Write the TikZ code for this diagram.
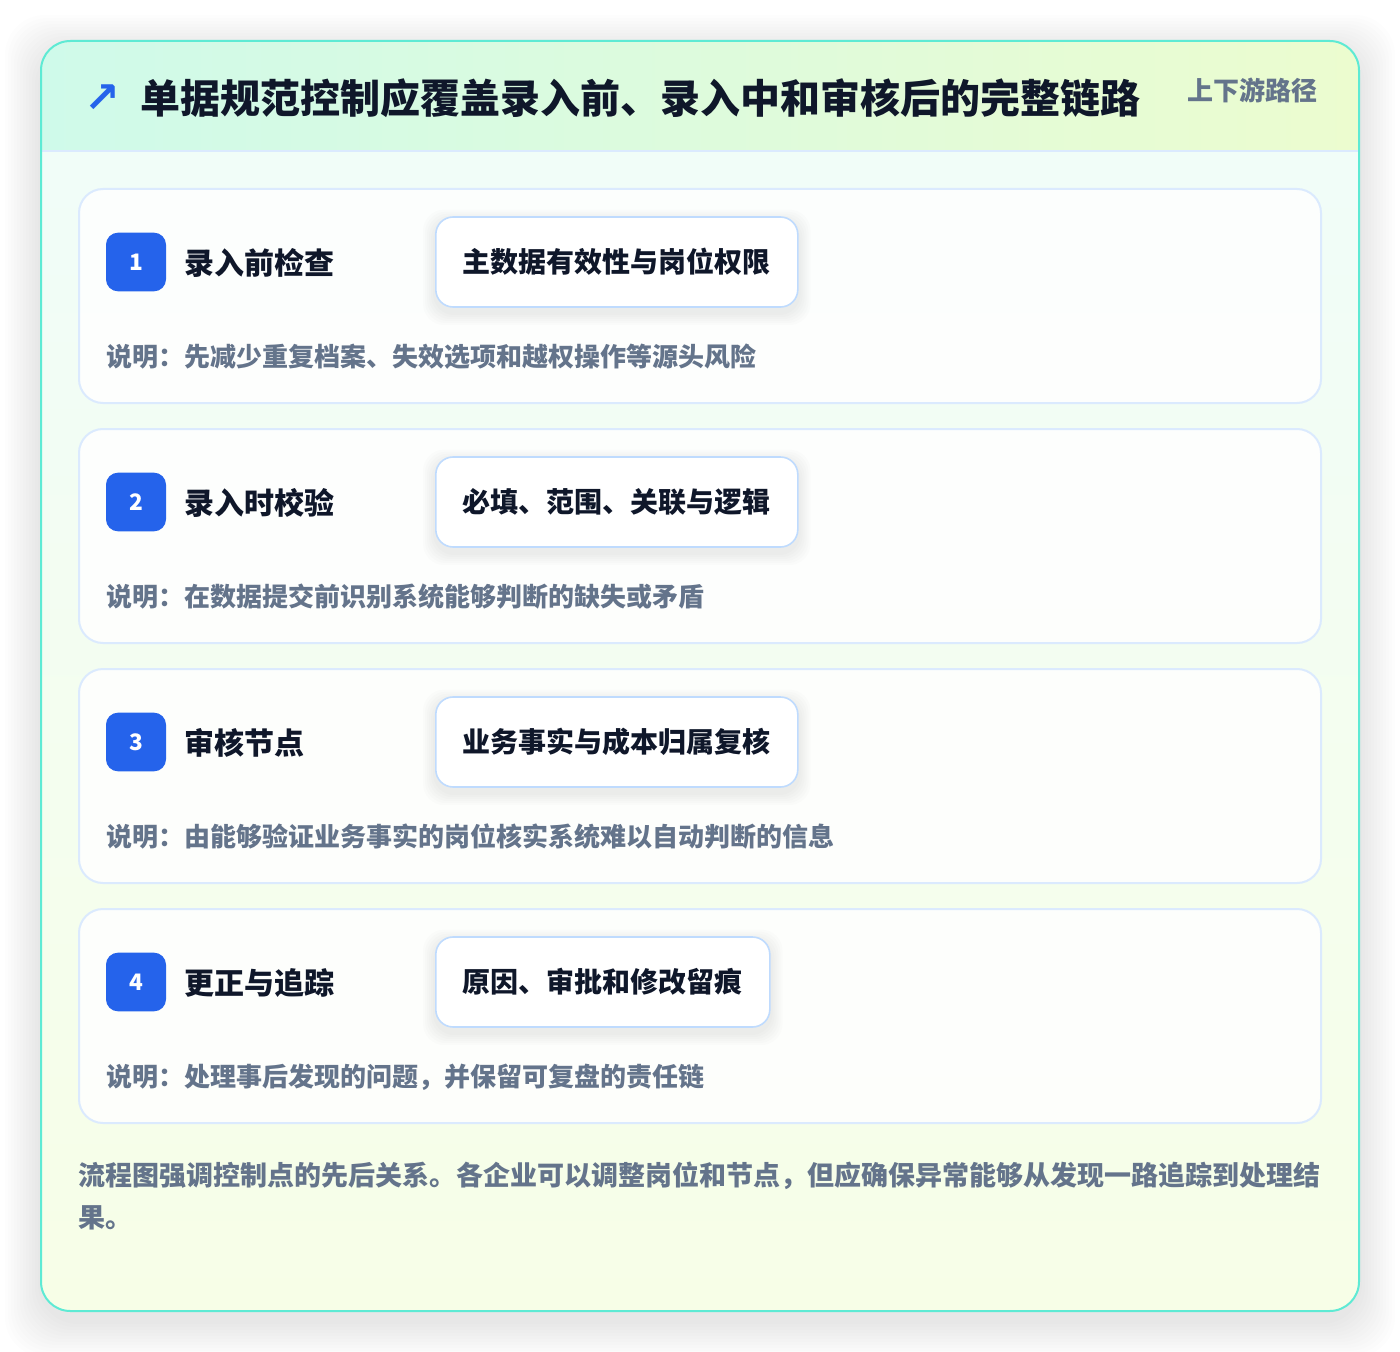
\documentclass[tikz,border=0pt]{standalone}
\usepackage{fontspec}
\setmainfont{Noto Sans CJK SC}
\newfontfamily\symfont{DejaVu Sans}
\usetikzlibrary{positioning}
\definecolor{cardedge}{HTML}{5EEAD4}
\definecolor{headleft}{HTML}{CFFAEA}
\definecolor{headright}{HTML}{ECFCCF}
\definecolor{bodytop}{HTML}{F0FDFA}
\definecolor{bodybottom}{HTML}{F7FEE7}
\definecolor{lineblue}{HTML}{DBEAFE}
\definecolor{pilledge}{HTML}{BFDBFE}
\definecolor{badgeblue}{HTML}{2563EB}
\definecolor{inkdark}{HTML}{0F172A}
\definecolor{inkgray}{HTML}{64748B}

\tikzset{
  stepcard/.style={draw=lineblue, line width=1.5pt, fill=white, fill opacity=0.85, rounded corners=18pt},
  badge/.style={fill=badgeblue, text=white, rounded corners=9pt, minimum width=45pt, minimum height=44pt, inner sep=0pt,
    font=\bfseries\fontsize{17}{17}\selectfont},
  steptitle/.style={anchor=west, inner sep=0pt, text=inkdark, font=\bfseries\fontsize{22.5}{26}\selectfont},
  pill/.style={anchor=west, draw=pilledge, line width=1.2pt, fill=white, rounded corners=13pt, minimum height=67.5pt,
    inner xsep=20.25pt, text=inkdark, font=\bfseries\fontsize{21}{24}\selectfont},
  desc/.style={anchor=west, inner sep=0pt, text=inkgray, font=\bfseries\fontsize{19.5}{22}\selectfont},
  haze/.style={fill=black, fill opacity=#1, draw=none}
}

\begin{document}
\begin{tikzpicture}[x=0.75pt, y=-0.75pt]
  \useasboundingbox[fill=white] (0,0) rectangle (1400,1352);

  % soft shadow under the outer card
  \foreach \s in {1,...,12} {
    \fill[haze=0.008, rounded corners=30pt] (41-\s*3,41-\s*3+10) rectangle (1359+\s*3,1311+\s*3+10);
  }

  % outer card
  \path[rounded corners=22pt, top color=bodytop, bottom color=bodybottom] (41,41) rectangle (1359,1311);

  % header band
  \begin{scope}
    \clip[rounded corners=22pt] (41,41) rectangle (1359,1311);
    \fill[left color=headleft, right color=headright] (41,41) rectangle (1359,151);
  \end{scope}
  \draw[lineblue, line width=1.2pt] (41,151) -- (1359,151);
  \draw[cardedge, line width=1.5pt, rounded corners=22pt] (41,41) rectangle (1359,1311);

  \node[text=badgeblue, inner sep=0pt, font=\symfont\bfseries\fontsize{32}{32}\selectfont] (icon) at (102,99) {↗};
  \node[anchor=west, inner sep=0pt, text=inkdark, font=\bfseries\fontsize{30}{34}\selectfont] (title) at (140,98)
    {单据规范控制应覆盖录入前、录入中和审核后的完整链路};
  \node[anchor=east, inner sep=0pt, text=inkgray, font=\bfseries\fontsize{19.5}{22}\selectfont] (tag) at (1318,90) {上下游路径};

  % the four steps
  \foreach \i/\name/\check/\note in {
      1/录入前检查/主数据有效性与岗位权限/说明：先减少重复档案、失效选项和越权操作等源头风险,
      2/录入时校验/必填、范围、关联与逻辑/说明：在数据提交前识别系统能够判断的缺失或矛盾,
      3/审核节点/业务事实与成本归属复核/说明：由能够验证业务事实的岗位核实系统难以自动判断的信息,
      4/更正与追踪/原因、审批和修改留痕/说明：处理事后发现的问题，并保留可复盘的责任链} {
    \pgfmathsetmacro{\cardtop}{189+240*(\i-1)}
    \path[stepcard] (79,\cardtop) rectangle (1321,\cardtop+214);
    \node[badge] (badge\i) at (136,\cardtop+73) {\i};
    \node[steptitle] (name\i) at (184,\cardtop+74) {\name};
    \node[pill, opacity=0] (ghost\i) at (435,\cardtop+73) {\check};
    \foreach \s in {1,...,6} {
      \fill[haze=0.012, rounded corners=16pt]
        ([xshift=-\s*1.5pt, yshift=\s*1.5pt-4pt]ghost\i.north west) rectangle ([xshift=\s*1.5pt, yshift=-\s*1.5pt-4pt]ghost\i.south east);
    }
    \node[pill] (check\i) at (435,\cardtop+73) {\check};
    \node[desc] (note\i) at (106,\cardtop+168) {\note};
  }

  % closing remark
  \node[anchor=west, inner sep=0pt, align=left, text=inkgray, font=\bfseries\fontsize{20.25}{31.5}\selectfont] (remark) at (78,1196)
    {流程图强调控制点的先后关系。各企业可以调整岗位和节点，但应确保异常能够从发现一路追踪到处理结\\果。};
\end{tikzpicture}
\end{document}
